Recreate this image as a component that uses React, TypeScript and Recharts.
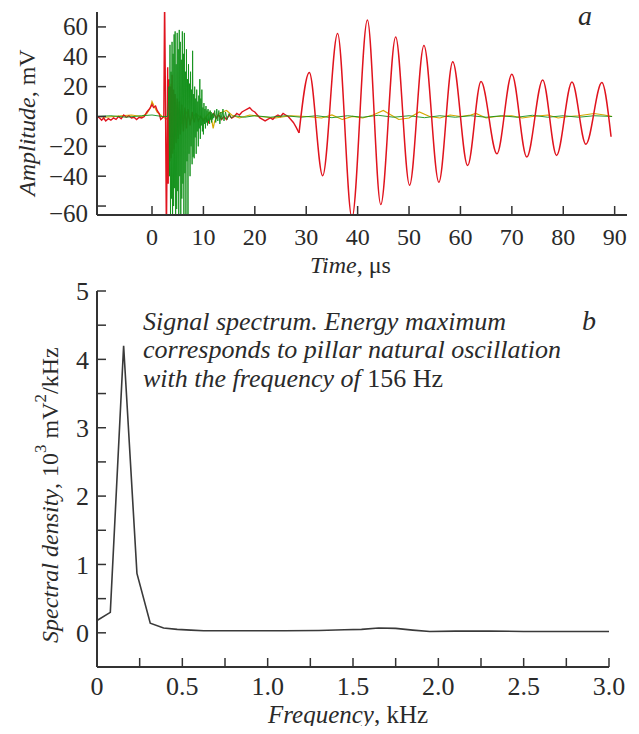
import { LineChart, Line, XAxis, YAxis } from 'recharts'

// panel a: recorded signals, time in µs, amplitude in mV
const timeTicks = [0, 10, 20, 30, 40, 50, 60, 70, 80, 90]
const ampTicks = [-60, -40, -20, 0, 20, 40, 60]

const redNoise = [
  { t: -10.7, v: 0 }, { t: -10.2, v: -1 }, { t: -9.8, v: -2.5 }, { t: -9.4, v: -1 },
  { t: -9, v: -3 }, { t: -8.5, v: -1.5 }, { t: -8, v: -2.5 }, { t: -7.5, v: -1 },
  { t: -7, v: -2 }, { t: -6.5, v: 0 }, { t: -6, v: -1.5 }, { t: -5.5, v: 1 },
  { t: -5, v: -0.5 }, { t: -4.5, v: 0.5 }, { t: -4, v: -1 }, { t: -3.5, v: -0.5 },
  { t: -3, v: -2 }, { t: -2.5, v: -0.5 }, { t: -2, v: -1 }, { t: -1.5, v: 0 },
  { t: -1, v: 3 }, { t: -0.5, v: 5 }, { t: 0, v: 8 }, { t: 0.3, v: 6 },
  { t: 0.7, v: 7 }, { t: 1.0, v: 4 }, { t: 1.4, v: 2 }, { t: 1.7, v: -2 },
  { t: 2.0, v: -1 }, { t: 2.3, v: 0 }, { t: 2.45, v: 80 }, { t: 2.6, v: 20 },
  { t: 2.8, v: -80 }, { t: 2.95, v: -20 }, { t: 3.05, v: 33 }, { t: 3.15, v: -45 },
  { t: 3.3, v: 25 }, { t: 3.45, v: -30 }, { t: 3.6, v: 20 }, { t: 3.75, v: -28 },
  { t: 3.9, v: 28 }, { t: 4.05, v: -25 }, { t: 4.2, v: 18 }, { t: 4.35, v: -22 },
  { t: 4.5, v: 15 }, { t: 4.7, v: -18 }, { t: 4.9, v: 12 }, { t: 5.1, v: -15 },
  { t: 5.3, v: 10 }, { t: 5.5, v: -12 }, { t: 5.8, v: 8 }, { t: 6.1, v: -10 },
  { t: 6.4, v: 6 }, { t: 6.7, v: -8 }, { t: 7.0, v: 5 }, { t: 7.4, v: -6 },
  { t: 7.8, v: 3 }, { t: 8.2, v: -4 }, { t: 8.6, v: 2 }, { t: 9.0, v: -3 },
  { t: 9.5, v: 0 }, { t: 10, v: -3 }, { t: 10.5, v: -1 }, { t: 11, v: -4 },
  { t: 11.5, v: 0 }, { t: 12, v: 2 }, { t: 12.5, v: -1 }, { t: 13, v: 1 },
  { t: 13.5, v: -2 }, { t: 14, v: 0 }, { t: 14.5, v: -2 }, { t: 15, v: 1 },
  { t: 15.5, v: -1 }, { t: 16, v: 0 }, { t: 16.5, v: 2 }, { t: 17, v: 1 },
  { t: 17.5, v: 3 }, { t: 18, v: 4 }, { t: 18.5, v: 5 }, { t: 19, v: 6 },
  { t: 19.5, v: 4 }, { t: 20, v: 3 }, { t: 20.5, v: 1 }, { t: 21, v: -1 },
  { t: 21.5, v: -2 }, { t: 22, v: -3 }, { t: 22.5, v: -2 }, { t: 23, v: -1 },
  { t: 23.5, v: -2 }, { t: 24, v: 0 }, { t: 24.5, v: 1 }, { t: 25, v: 0 },
  { t: 25.5, v: 2 }, { t: 26, v: 1 }, { t: 26.5, v: 0 }, { t: 27, v: -2 },
  { t: 27.5, v: -4 }, { t: 28, v: -7 }, { t: 28.3, v: -9 }, { t: 28.6, v: -11 },
]

// peaks and troughs of the pillar oscillation
const redWave = [
  { t: 28.6, v: -11 }, { t: 30.6, v: 29.5 }, { t: 33.2, v: -39.7 }, { t: 36.1, v: 55.6 },
  { t: 38.9, v: -68 }, { t: 41.9, v: 64.6 }, { t: 44.5, v: -59 }, { t: 47.4, v: 53.3 },
  { t: 50.1, v: -46 }, { t: 52.9, v: 47.6 }, { t: 55.8, v: -44 }, { t: 58.5, v: 36.7 },
  { t: 61.4, v: -32.9 }, { t: 64.0, v: 23.4 }, { t: 67.1, v: -25 }, { t: 70.0, v: 28.3 },
  { t: 72.9, v: -27.2 }, { t: 76.0, v: 24.5 }, { t: 78.7, v: -26.1 }, { t: 81.7, v: 23.1 },
  { t: 84.4, v: -18.6 }, { t: 87.5, v: 22.7 }, { t: 89.3, v: -13.6 },
]

const green = [
  { t: -10.7, v: 0 }, { t: -8, v: 0.5 }, { t: -5, v: -0.5 }, { t: -2, v: 0.5 },
  { t: 0, v: 1 }, { t: 2, v: 0 }, { t: 3.0, v: 0 }, { t: 3.2, v: 10 },
  { t: 3.3, v: 20 }, { t: 3.4, v: -40 }, { t: 3.5, v: 48 }, { t: 3.6, v: -70 },
  { t: 3.7, v: 30 }, { t: 3.8, v: -55 }, { t: 3.9, v: 50 }, { t: 4.0, v: -72 },
  { t: 4.1, v: 42 }, { t: 4.2, v: -60 }, { t: 4.3, v: 55 }, { t: 4.4, v: -48 },
  { t: 4.5, v: 57 }, { t: 4.6, v: -70 }, { t: 4.7, v: 35 }, { t: 4.8, v: -62 },
  { t: 4.9, v: 56 }, { t: 5.0, v: -50 }, { t: 5.1, v: 45 }, { t: 5.2, v: -72 },
  { t: 5.3, v: 58 }, { t: 5.4, v: -40 }, { t: 5.5, v: 50 }, { t: 5.6, v: -68 },
  { t: 5.7, v: 38 }, { t: 5.8, v: -55 }, { t: 5.9, v: 57 }, { t: 6.0, v: -45 },
  { t: 6.1, v: 42 }, { t: 6.2, v: -70 }, { t: 6.3, v: 56 }, { t: 6.4, v: -38 },
  { t: 6.5, v: 30 }, { t: 6.6, v: -66 }, { t: 6.7, v: 45 }, { t: 6.8, v: -30 },
  { t: 6.9, v: 25 }, { t: 7.0, v: -68 }, { t: 7.1, v: 35 }, { t: 7.2, v: -25 },
  { t: 7.3, v: 22 }, { t: 7.4, v: -40 }, { t: 7.5, v: 30 }, { t: 7.6, v: -20 },
  { t: 7.7, v: 18 }, { t: 7.8, v: -32 }, { t: 7.9, v: 44 }, { t: 8.0, v: -27 },
  { t: 8.1, v: 15 }, { t: 8.2, v: -28 }, { t: 8.3, v: 20 }, { t: 8.4, v: -14 },
  { t: 8.5, v: 12 }, { t: 8.6, v: -25 }, { t: 8.7, v: 18 }, { t: 8.8, v: -10 },
  { t: 8.9, v: 10 }, { t: 9.0, v: -20 }, { t: 9.1, v: 14 }, { t: 9.2, v: -8 },
  { t: 9.3, v: 25 }, { t: 9.4, v: -15 }, { t: 9.5, v: 12 }, { t: 9.6, v: -6 },
  { t: 9.7, v: 18 }, { t: 9.8, v: -10 }, { t: 9.9, v: 6 }, { t: 10.0, v: -12 },
  { t: 10.1, v: 9 }, { t: 10.2, v: -5 }, { t: 10.3, v: 5 }, { t: 10.4, v: -8 },
  { t: 10.5, v: 7 }, { t: 10.6, v: -4 }, { t: 10.7, v: 4 }, { t: 10.8, v: -6 },
  { t: 10.9, v: 5 }, { t: 11.0, v: -3 }, { t: 11.1, v: 3 }, { t: 11.2, v: -5 },
  { t: 11.3, v: 4 }, { t: 11.4, v: -2 }, { t: 11.5, v: 3 }, { t: 11.6, v: -4 },
  { t: 11.7, v: 2 }, { t: 11.8, v: -2 }, { t: 11.9, v: 2 }, { t: 12.0, v: -1 },
  { t: 12.2, v: 4 }, { t: 12.4, v: -4 }, { t: 12.6, v: 5 }, { t: 12.8, v: -3 },
  { t: 13.0, v: 4 }, { t: 13.2, v: -5 }, { t: 13.4, v: 3 }, { t: 13.6, v: -2 },
  { t: 13.8, v: 5 }, { t: 14.0, v: -3 }, { t: 14.3, v: 3 }, { t: 14.6, v: -2 },
  { t: 15.0, v: 2 }, { t: 15.4, v: -1 }, { t: 16, v: 0.5 }, { t: 18, v: -0.5 },
  { t: 20, v: 0.5 }, { t: 23, v: -0.5 }, { t: 26, v: 0.5 }, { t: 29, v: -0.5 },
  { t: 32, v: 0.5 }, { t: 35, v: -0.8 }, { t: 38, v: 0.5 }, { t: 41, v: -0.5 },
  { t: 44, v: 0.8 }, { t: 47, v: -0.5 }, { t: 50, v: 0.5 }, { t: 53, v: -0.8 },
  { t: 56, v: 0.5 }, { t: 59, v: -0.5 }, { t: 62, v: 0.5 }, { t: 65, v: -0.5 },
  { t: 68, v: 0.5 }, { t: 71, v: -0.5 }, { t: 74, v: 0.8 }, { t: 77, v: -0.5 },
  { t: 80, v: 0.5 }, { t: 83, v: -0.5 }, { t: 86, v: 0.5 }, { t: 89.5, v: 0 },
]

const yellow = [
  { t: -10.7, v: 0 }, { t: -9, v: -0.5 }, { t: -6, v: 0.5 }, { t: -4, v: 1 },
  { t: -2, v: 0 }, { t: -1, v: 2 }, { t: -0.3, v: 6 }, { t: 0, v: 10 },
  { t: 0.4, v: 7 }, { t: 1, v: 3 }, { t: 2, v: 0 }, { t: 3, v: -2 },
  { t: 3.3, v: 15 }, { t: 3.5, v: -18 }, { t: 3.7, v: 22 }, { t: 3.9, v: -20 },
  { t: 4.1, v: 12 }, { t: 4.3, v: -15 }, { t: 4.6, v: 10 }, { t: 4.9, v: -8 },
  { t: 5.3, v: 6 }, { t: 5.8, v: -5 }, { t: 6.5, v: 4 }, { t: 7.5, v: -3 },
  { t: 8.5, v: 2 }, { t: 10, v: -2 }, { t: 11.3, v: 3 }, { t: 11.7, v: -4 },
  { t: 11.9, v: -8 }, { t: 12.2, v: -3 }, { t: 13, v: 2 }, { t: 14.5, v: 4 },
  { t: 15.5, v: 1 }, { t: 17, v: -1 }, { t: 19, v: 1 }, { t: 21, v: 0 },
  { t: 24, v: -1 }, { t: 27, v: 0.5 }, { t: 30, v: 0 }, { t: 33, v: -1 },
  { t: 35, v: 1 }, { t: 37, v: -2 }, { t: 39, v: 0 }, { t: 41, v: -1 },
  { t: 43, v: 1 }, { t: 45, v: 4 }, { t: 46, v: 2 }, { t: 48, v: -2 },
  { t: 50, v: -1 }, { t: 52, v: 3 }, { t: 54, v: 0 }, { t: 56, v: -1 },
  { t: 58, v: 1 }, { t: 60, v: 0 }, { t: 62, v: 1 }, { t: 63, v: 2 },
  { t: 65, v: -1 }, { t: 67, v: 0 }, { t: 70, v: 0.5 }, { t: 72, v: -1 },
  { t: 74, v: 0 }, { t: 77, v: 1 }, { t: 79, v: -1 }, { t: 81, v: 0 },
  { t: 83, v: 0.5 }, { t: 86, v: 2 }, { t: 88, v: 1 }, { t: 89.5, v: 0 },
]

// panel b: spectrum, frequency in kHz, density in 10^3 mV^2/kHz
const freqTicks = [0, 0.25, 0.5, 0.75, 1.0, 1.25, 1.5, 1.75, 2.0, 2.25, 2.5, 2.75, 3.0]
const densTicks = [0, 0.5, 1, 1.5, 2, 2.5, 3, 3.5, 4, 4.5, 5]

const spectrum = [
  { f: 0, d: 0.18 }, { f: 0.078, d: 0.3 }, { f: 0.156, d: 4.2 }, { f: 0.234, d: 0.87 },
  { f: 0.312, d: 0.14 }, { f: 0.39, d: 0.07 }, { f: 0.47, d: 0.05 }, { f: 0.55, d: 0.04 },
  { f: 0.625, d: 0.03 }, { f: 0.9, d: 0.03 }, { f: 1.1, d: 0.03 }, { f: 1.3, d: 0.035 },
  { f: 1.45, d: 0.045 }, { f: 1.55, d: 0.05 }, { f: 1.65, d: 0.07 }, { f: 1.75, d: 0.065 },
  { f: 1.85, d: 0.04 }, { f: 1.95, d: 0.02 }, { f: 2.1, d: 0.025 }, { f: 2.3, d: 0.025 },
  { f: 2.5, d: 0.02 }, { f: 2.7, d: 0.02 }, { f: 2.9, d: 0.02 }, { f: 3.0, d: 0.02 },
]

const serif = '"Liberation Serif", "Times New Roman", serif'
const ink = '#2a2a2a'
const axisLine = { stroke: '#333', strokeWidth: 2 }
const tickLine = { stroke: '#333', strokeWidth: 1.5 }

const fmtFreq = (v: number) => {
  if (Math.abs(v * 2 - Math.round(v * 2)) > 1e-6) return ''
  return v === 0 ? '0' : v.toFixed(1)
}
const fmtDens = (v: number) => (Number.isInteger(v) ? String(v) : '')
const fmtAmp = (v: number) => (v < 0 ? '\u2212' + Math.abs(v) : String(v))

// the bottom label of panel a sits in the axis corner, a little below its tick
const AmpTick = (props: any) => {
  const { x, y, payload } = props
  const shift = payload.value === -60 ? 7 : 0
  return (
    <text x={x} y={y + shift} textAnchor="end" dominantBaseline="central" fontFamily={serif} fontSize={25} fill={ink}>
      {fmtAmp(payload.value)}
    </text>
  )
}

export default function App() {
  return (
    <div style={{ position: 'relative', width: 639, height: 734, margin: -8, background: '#fff', fontFamily: serif }}>
      <div style={{ position: 'absolute', left: 0, top: 0 }}>
        <LineChart width={639} height={280} margin={{ top: 12, right: 12, left: 0, bottom: 0 }}>
          <XAxis
            dataKey="t"
            type="number"
            domain={[-10.7, 92.4]}
            allowDataOverflow
            ticks={timeTicks}
            interval={0}
            axisLine={axisLine}
            tickLine={tickLine}
            tickSize={-9}
            tickMargin={22}
            height={65}
            tick={{ fontFamily: serif, fontSize: 24, fill: ink }}
          />
          <YAxis
            type="number"
            domain={[-66, 70]}
            allowDataOverflow
            ticks={ampTicks}
            interval={0}
            axisLine={axisLine}
            tickLine={tickLine}
            tickSize={-9}
            tickMargin={18}
            width={97}
            tick={<AmpTick />}
          />
          <Line data={yellow} dataKey="v" type="linear" stroke="#d6a800" strokeWidth={1.2} dot={false} isAnimationActive={false} />
          <Line data={redNoise} dataKey="v" type="linear" stroke="#e0141e" strokeWidth={1.4} dot={false} isAnimationActive={false} />
          <Line data={green} dataKey="v" type="linear" stroke="#12901a" strokeWidth={1} strokeOpacity={0.9} dot={false} isAnimationActive={false} />
          <Line data={redWave} dataKey="v" type="monotone" stroke="#e0141e" strokeWidth={1.5} dot={false} isAnimationActive={false} />
          <text x={27} y={196} transform="rotate(-90 27 196)" textAnchor="start" dominantBaseline="central" fontFamily={serif} fontSize={24} fill={ink}>
            <tspan fontStyle="italic">Amplitude</tspan>, mV
          </text>
          <text x={310} y={273} textAnchor="start" fontFamily={serif} fontSize={24} fill={ink}>
            <tspan fontStyle="italic">Time</tspan>, μs
          </text>
          <text x={585} y={25} textAnchor="middle" fontFamily={serif} fontSize={28} fontStyle="italic" fill={ink}>a</text>
        </LineChart>
      </div>
      <div style={{ position: 'absolute', left: 0, top: 266 }}>
        <LineChart width={639} height={468} margin={{ top: 25, right: 30, left: 0, bottom: 0 }}>
          <XAxis
            dataKey="f"
            type="number"
            domain={[0, 3]}
            allowDataOverflow
            ticks={freqTicks}
            tickFormatter={fmtFreq}
            interval={0}
            axisLine={axisLine}
            tickLine={tickLine}
            tickSize={-9}
            tickMargin={19}
            height={67}
            tick={{ fontFamily: serif, fontSize: 26, fill: ink }}
          />
          <XAxis
            xAxisId="top"
            orientation="top"
            dataKey="f"
            type="number"
            domain={[0, 3]}
            allowDataOverflow
            ticks={freqTicks}
            interval={0}
            axisLine={axisLine}
            tickLine={tickLine}
            tickSize={-9}
            height={0}
            tick={false}
          />
          <YAxis
            type="number"
            domain={[-0.5, 5]}
            allowDataOverflow
            ticks={densTicks}
            tickFormatter={fmtDens}
            interval={0}
            axisLine={axisLine}
            tickLine={tickLine}
            tickSize={-9}
            tickMargin={17}
            width={97}
            tick={{ fontFamily: serif, fontSize: 26, fill: ink }}
          />
          <YAxis
            yAxisId="right"
            orientation="right"
            type="number"
            domain={[-0.5, 5]}
            allowDataOverflow
            ticks={densTicks}
            interval={0}
            axisLine={axisLine}
            tickLine={tickLine}
            tickSize={-9}
            width={0}
            tick={false}
          />
          <Line data={spectrum} dataKey="d" type="linear" stroke="#3a3a3a" strokeWidth={1.6} dot={false} isAnimationActive={false} />
          <Line data={spectrum} xAxisId="top" yAxisId="right" dataKey="d" stroke="none" dot={false} isAnimationActive={false} />
          <text x={50} y={377} transform="rotate(-90 50 377)" textAnchor="start" dominantBaseline="central" fontFamily={serif} fontSize={24} fill={ink}>
            <tspan fontStyle="italic">Spectral density</tspan>, 10<tspan dy={-10} fontSize={17}>3</tspan>
            <tspan dy={10}> mV</tspan><tspan dy={-10} fontSize={17}>2</tspan><tspan dy={10}>/kHz</tspan>
          </text>
          <text x={268} y={457} textAnchor="start" fontFamily={serif} fontSize={25} fill={ink}>
            <tspan fontStyle="italic">Frequency</tspan>, kHz
          </text>
          <g fontFamily={serif} fontSize={26} fill={ink} fontStyle="italic">
            <text x={143} y={64}>Signal spectrum. Energy maximum</text>
            <text x={143} y={92}>corresponds to pillar natural oscillation</text>
            <text x={143} y={121}>with the frequency of <tspan fontStyle="normal">156 Hz</tspan></text>
          </g>
          <text x={589} y={64} textAnchor="middle" fontFamily={serif} fontSize={28} fontStyle="italic" fill={ink}>b</text>
        </LineChart>
      </div>
    </div>
  )
}
